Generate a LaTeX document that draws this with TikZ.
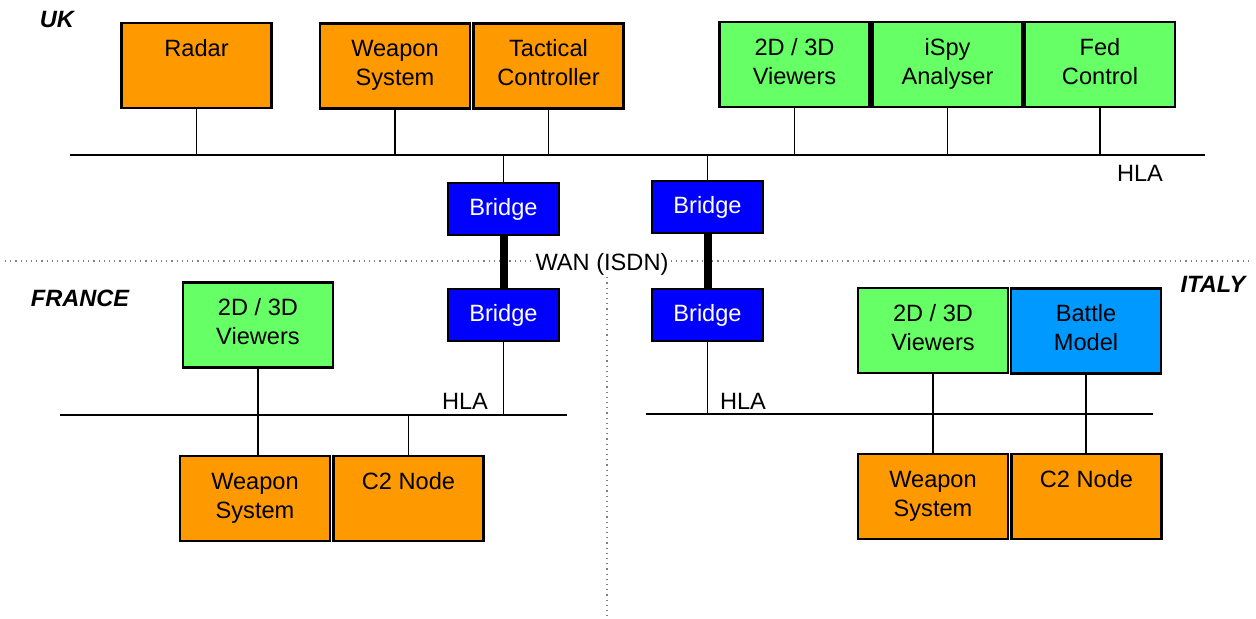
\documentclass[tikz,border=0pt]{standalone}
\usepackage{fontspec}
\setmainfont{Liberation Sans}
\usetikzlibrary{positioning}
\definecolor{Amber}{RGB}{255,153,0}
\definecolor{Lime}{RGB}{102,255,102}
\definecolor{Royal}{RGB}{0,0,255}
\definecolor{Sky}{RGB}{0,153,255}
\newcommand{\toptext}[1]{\parbox[c][40pt][t]{74pt}{\centering\rule{0pt}{15.5pt}#1}}

\begin{document}
\begin{tikzpicture}[x=.5pt,y=-.5pt,
 unit/.style={draw,line width=1.1pt,minimum width=75pt,minimum height=42.5pt,inner sep=0pt,font=\fontsize{11.8}{14.4}\selectfont},
 br/.style={draw,line width=1.1pt,fill=Royal,text=white,minimum width=55.5pt,minimum height=26pt,inner sep=0pt,font=\fontsize{11.8}{14.4}\selectfont},
 bus/.style={line width=.9pt},
 ln/.style={line width=.75pt},
 wan/.style={line width=4pt},
 zone/.style={dotted,gray,line width=.6pt},
 lbl/.style={inner sep=1pt,font=\fontsize{11.8}{14.4}\selectfont},
 land/.style={inner sep=0pt,font=\fontsize{11.8}{14.4}\selectfont\bfseries\itshape}]
\useasboundingbox (0,0) rectangle (1256,619);
% borders between the three countries
\draw[zone] (5,261) -- (1250,261);
\draw[zone] (607,272) -- (607,619);
\node[lbl,fill=white] (wanlbl) at (602,264) {WAN (ISDN)};

% UK
\node[land] (uk) at (57,20) {UK};
\node[unit,fill=Amber] (radar) at (196.5,65.5) {\toptext{Radar}};
\node[unit,fill=Amber] (wsuk) at (395,66) {\toptext{Weapon\\System}};
\node[unit,fill=Amber] (tcuk) at (548.5,66) {\toptext{Tactical\\Controller}};
\node[unit,fill=Lime] (vwuk) at (794.5,64.5) {\toptext{2D / 3D\\Viewers}};
\node[unit,fill=Lime] (ispy) at (947.5,64.5) {\toptext{iSpy\\Analyser}};
\node[unit,fill=Lime] (fed) at (1100,64.5) {\toptext{Fed\\Control}};
\coordinate (ukbus) at (70,155); \coordinate (ukbusend) at (1205,155);
\draw[bus] (ukbus) -- (ukbusend);
\node[lbl] (hlauk) at (1140,173) {HLA};
\foreach \n in {radar,wsuk,tcuk,vwuk,ispy,fed} \draw[ln] (\n.south) -- (\n.south |- ukbus);
\node[br] (bruka) at (503.5,209) {Bridge};
\node[br] (brukb) at (707.5,207) {Bridge};
\draw[ln] (bruka.north) -- (bruka.north |- ukbus); \draw[ln] (brukb.north) -- (brukb.north |- ukbus);

% France
\node[land] (fr) at (80,298) {FRANCE};
\node[br] (brfr) at (503.5,315) {Bridge};
\node[unit,fill=Lime] (vwfr) at (258,325) {\toptext{2D / 3D\\Viewers}};
\node[unit,fill=Amber] (wsfr) at (255,498.5) {\toptext{Weapon\\System}};
\node[unit,fill=Amber] (c2fr) at (408.5,498.5) {\toptext{C2 Node}};
\coordinate (frbus) at (60,415); \coordinate (frbusend) at (567,415);
\draw[bus] (frbus) -- (frbusend);
\node[lbl] (hlafr) at (465,401) {HLA};
\draw[ln] (vwfr.south) -- (vwfr.south |- wsfr.north);
\draw[ln] (c2fr.north) -- (c2fr.north |- frbus);
\draw[ln] (brfr.south) -- (brfr.south |- frbus);

% Italy
\node[land] (it) at (1213,284) {ITALY};
\node[br] (brit) at (707.5,315) {Bridge};
\node[unit,fill=Lime] (vwit) at (933,330.5) {\toptext{2D / 3D\\Viewers}};
\node[unit,fill=Sky] (bmit) at (1086,331) {\toptext{Battle\\Model}};
\node[unit,fill=Amber] (wsit) at (933,496.5) {\toptext{Weapon\\System}};
\node[unit,fill=Amber] (c2it) at (1086.5,496.5) {\toptext{C2 Node}};
\coordinate (itbus) at (646,414); \coordinate (itbusend) at (1153,414);
\draw[bus] (itbus) -- (itbusend);
\node[lbl] (hlait) at (743,401) {HLA};
\draw[ln] (vwit.south) -- (vwit.south |- wsit.north);
\draw[ln] (bmit.south) -- (bmit.south |- c2it.north);
\draw[ln] (brit.south) -- (brit.south |- itbus);

% WAN links
\draw[wan] (bruka.south) -- (brfr.north);
\draw[wan] (brukb.south) -- (brit.north);
\end{tikzpicture}
\end{document}
